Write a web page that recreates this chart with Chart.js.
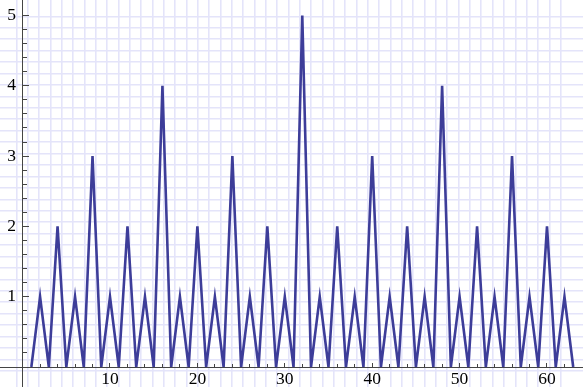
<!DOCTYPE html>
<html>
<head>
<meta charset="utf-8">
<script src="https://cdn.jsdelivr.net/npm/chart.js@4.4.1/dist/chart.umd.min.js"></script>
<style>
  html, body { margin: 0; padding: 0; background: #fff; }
  #c { display: block; }
</style>
</head>
<body>
<canvas id="c" width="583" height="387"></canvas>
<script>
// n = 1..63
const nValues = [
  1, 2, 3, 4, 5, 6, 7, 8, 9, 10, 11, 12, 13, 14, 15, 16,
  17, 18, 19, 20, 21, 22, 23, 24, 25, 26, 27, 28, 29, 30, 31, 32,
  33, 34, 35, 36, 37, 38, 39, 40, 41, 42, 43, 44, 45, 46, 47, 48,
  49, 50, 51, 52, 53, 54, 55, 56, 57, 58, 59, 60, 61, 62, 63
]
// value read for each n
const heights = [
  0, 1, 0, 2, 0, 1, 0, 3, 0, 1, 0, 2, 0, 1, 0, 4,
  0, 1, 0, 2, 0, 1, 0, 3, 0, 1, 0, 2, 0, 1, 0, 5,
  0, 1, 0, 2, 0, 1, 0, 3, 0, 1, 0, 2, 0, 1, 0, 4,
  0, 1, 0, 2, 0, 1, 0, 3, 0, 1, 0, 2, 0, 1, 0
]
// Tick labels
const xTickLabels = [10, 20, 30, 40, 50, 60]
const yTickLabels = [1, 2, 3, 4, 5]

const lineColor = '#3d3d99'
const axisColor = '#444444'
const paperColor = '#e4e4fa'

// minor ticks (unlabelled)
let xMinor = []
for (let v = 2; v <= 62; v += 2) if (v % 10) xMinor.push(v)
let yMinor = []
for (let i = 1; i <= 25; i++) if (i % 5) yMinor.push(i / 5)

const setTicks = (list) => (scale) => {
  scale.ticks = list.map((v) => ({ value: v }))
}
const intTicks = (scale) => {
  scale.ticks = scale.ticks.filter((t) => Number.isInteger(t.value))
}
// keep the plot area on the whole canvas
const noPad = (scale) => {
  scale.paddingTop = 0
  scale.paddingBottom = 0
  scale.paddingLeft = 0
  scale.paddingRight = 0
}

const serif = { family: '"Liberation Serif", "DejaVu Serif", serif', size: 17.5 }
const yRange = { min: -0.284, max: 5.22 }
const xRange = { min: -2.586, max: 64.12 }

new Chart(document.getElementById('c'), {
  type: 'line',
  data: {
    datasets: [{
      data: nValues.map((n, i) => ({ x: n, y: heights[i] })),
      xAxisID: 'x',
      yAxisID: 'y',
      borderColor: lineColor,
      borderWidth: 2.6,
      pointRadius: 0,
      tension: 0,
      fill: false,
      borderJoinStyle: 'miter'
    }]
  },
  options: {
    responsive: false,
    animation: false,
    layout: { padding: 0 },
    plugins: { legend: { display: false }, tooltip: { enabled: false } },
    scales: {
      // graph paper background
      gx: {
        type: 'linear', axis: 'x', position: { y: 0 },
        min: -5 / 11.34, max: 578 / 11.34,
        ticks: { display: false, stepSize: 1 },
        afterBuildTicks: intTicks,
        afterFit: noPad,
        grid: { color: paperColor, lineWidth: 1.6, drawTicks: false },
        border: { display: false }
      },
      gy: {
        type: 'linear', axis: 'y', position: { x: 0 }, reverse: true,
        min: -5 / 11.43, max: 382 / 11.43,
        ticks: { display: false, stepSize: 1 },
        afterBuildTicks: intTicks,
        afterFit: noPad,
        grid: { color: paperColor, lineWidth: 1.6, drawTicks: false },
        border: { display: false }
      },
      x: {
        type: 'linear', position: { y: 0 },
        ...xRange,
        afterBuildTicks: setTicks(xTickLabels),
        afterFit: noPad,
        ticks: { color: '#000', font: serif, padding: 7 },
        grid: { drawOnChartArea: false, tickLength: -5, color: axisColor },
        border: { color: axisColor, width: 1 }
      },
      xm: {
        type: 'linear', axis: 'x', position: { y: 0 },
        ...xRange,
        afterBuildTicks: setTicks(xMinor),
        afterFit: noPad,
        ticks: { display: false },
        grid: { drawOnChartArea: false, tickLength: -3, color: axisColor },
        border: { display: false }
      },
      y: {
        type: 'linear', position: { x: 0 },
        ...yRange,
        afterBuildTicks: setTicks(yTickLabels),
        afterFit: noPad,
        ticks: { display: false },
        grid: { drawOnChartArea: false, tickLength: -7, color: axisColor },
        border: { color: axisColor, width: 1 }
      },
      ym: {
        type: 'linear', axis: 'y', position: { x: 0 },
        ...yRange,
        afterBuildTicks: setTicks(yMinor),
        afterFit: noPad,
        ticks: { display: false },
        grid: { drawOnChartArea: false, tickLength: -4, color: axisColor },
        border: { display: false }
      },
      // y labels sit a little left of the axis
      yl: {
        type: 'linear', axis: 'y', position: { x: -0.75 },
        ...yRange,
        afterBuildTicks: setTicks(yTickLabels),
        afterFit: noPad,
        ticks: { color: '#000', font: serif },
        grid: { display: false, drawTicks: false },
        border: { display: false }
      }
    }
  }
})
</script>
</body>
</html>
